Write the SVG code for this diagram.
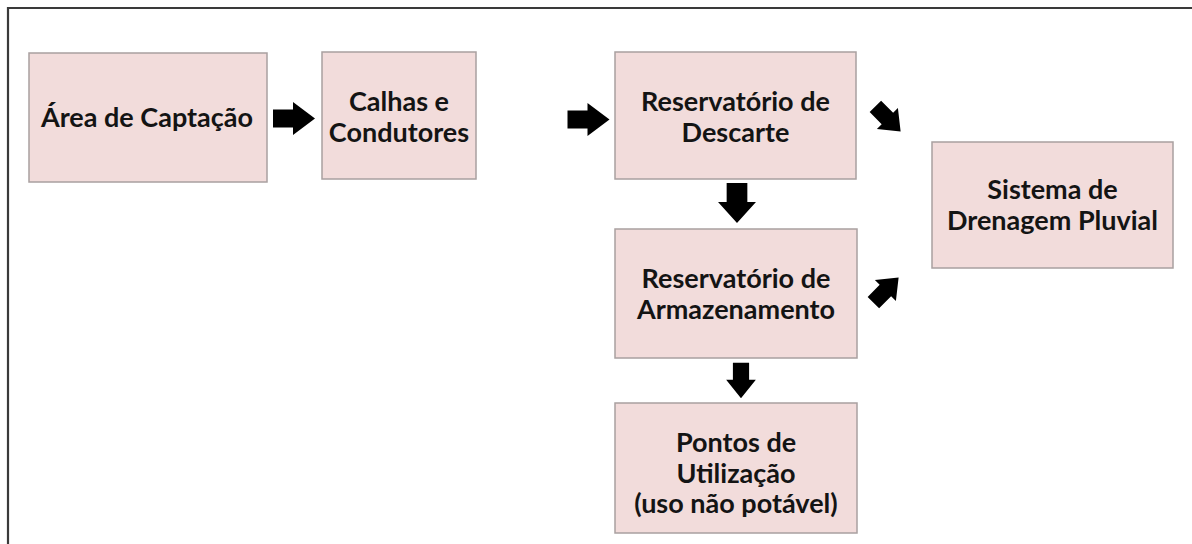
<svg xmlns="http://www.w3.org/2000/svg" width="1192" height="544" viewBox="0 0 1192 544">
<defs>
<style>
.box{fill:#f2dcdb;stroke:#a9a0a0;stroke-width:1.5}
.t{font-family:Lato,"Open Sans","Liberation Sans",sans-serif;font-weight:bold;font-size:27px;fill:#141414;text-anchor:middle}
.arr{fill:#000}
</style>
<path id="ar" d="M-21,-9 H-1 V-16.5 L21,0 L-1,16.5 V9 H-21 Z"/>
</defs>
<rect width="1192" height="544" fill="#fff"/>
<path d="M8,560 V8 H1200" fill="none" stroke="#3a3a3a" stroke-width="2.2"/>
<g id="n1"><rect class="box" x="29" y="53" width="238" height="129"/><text class="t" x="147" y="127">Área de Captação</text></g>
<g id="n2"><rect class="box" x="322" y="52" width="154" height="127"/><text class="t" x="399" y="111">Calhas e</text><text class="t" x="399" y="142">Condutores</text></g>
<g id="n3"><rect class="box" x="615" y="52" width="241" height="127"/><text class="t" x="735.5" y="111">Reservatório de</text><text class="t" x="735.5" y="142">Descarte</text></g>
<g id="n4"><rect class="box" x="615" y="229" width="242" height="129"/><text class="t" x="736" y="288">Reservatório de</text><text class="t" x="736" y="319">Armazenamento</text></g>
<g id="n5"><rect class="box" x="615" y="403" width="242" height="130"/><text class="t" x="736" y="452">Pontos de</text><text class="t" x="736" y="482.5">Utilização</text><text class="t" x="736" y="513">(uso não potável)</text></g>
<g id="n6"><rect class="box" x="932" y="142" width="241" height="126"/><text class="t" x="1052.5" y="199">Sistema de</text><text class="t" x="1052.5" y="230">Drenagem Pluvial</text></g>
<g id="connectors" class="arr">
<use href="#ar" transform="translate(294,118.5)"/>
<use href="#ar" transform="translate(588.5,119.5)"/>
<use href="#ar" transform="translate(737,203) rotate(90) scale(0.95,1.15)"/>
<use href="#ar" transform="translate(741,380.5) rotate(90) scale(0.85,0.9)"/>
<use href="#ar" transform="translate(888,119) rotate(45) scale(0.85,0.9)"/>
<use href="#ar" transform="translate(886,290) rotate(-45) scale(0.85,0.9)"/>
</g>
</svg>
